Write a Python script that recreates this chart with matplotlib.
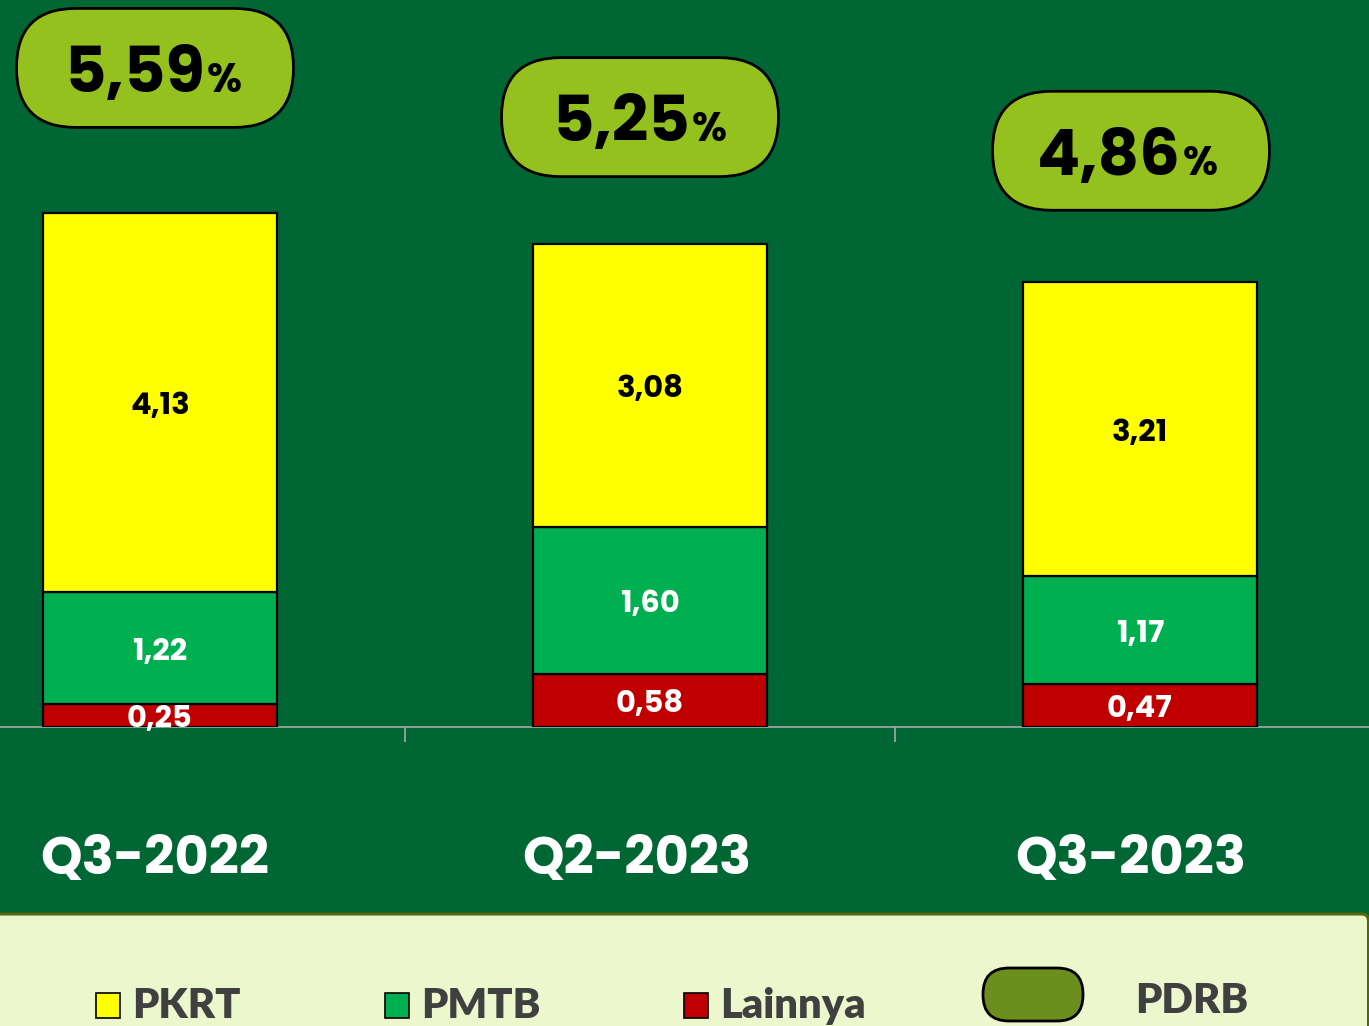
import matplotlib
matplotlib.use("Agg")
import matplotlib.pyplot as plt
from matplotlib.patches import FancyBboxPatch, Rectangle
import numpy as np

# ---------------- data ----------------
categories = ["Q3-2022", "Q2-2023", "Q3-2023"]
pkrt = [4.13, 3.08, 3.21]
pmtb = [1.22, 1.60, 1.17]
lainnya = [0.25, 0.58, 0.47]
pdrb = [5.59, 5.25, 4.86]
legend_labels = ["PKRT", "PMTB", "Lainnya", "PDRB"]

def fmt(v):
    return f"{v:.2f}".replace(".", ",")

# ---------------- style ----------------
BG = "#006633"
YEL = "#FFFF00"
GRN = "#00B050"
RED = "#C00000"
BADGE = "#95C11F"
PANEL = "#EDF7CE"
plt.rcParams["font.family"] = ["Lato", "DejaVu Sans"]
GEO = ["Poppins", "Lato", "DejaVu Sans"]

W, H = 1369, 1026
fig = plt.figure(figsize=(W / 100, H / 100), dpi=100, facecolor=BG)

base_px = 727
px_per_unit = 91.8
cat_px = 490
ax = fig.add_axes([0, 1 - base_px / H, 1, base_px / H])
ax.set_facecolor("none")
ax.set_xlim(-160 / cat_px, (W - 160) / cat_px)
ax.set_ylim(0, base_px / px_per_unit)

x = np.arange(len(categories))
bw = 234 / cat_px
kw = dict(width=bw, edgecolor="black", linewidth=1.6, zorder=3)
ax.bar(x, lainnya, color=RED, **kw)
ax.bar(x, pmtb, bottom=lainnya, color=GRN, **kw)
bot3 = np.array(lainnya) + np.array(pmtb)
ax.bar(x, pkrt, bottom=bot3, color=YEL, **kw)

vkw = dict(ha="center", va="center", fontsize=22, fontweight="bold", family=GEO,
           zorder=5, textcoords="offset points", xytext=(0, -3.5))
for i in range(len(categories)):
    ax.annotate(fmt(lainnya[i]), (x[i], lainnya[i] / 2), color="white", **vkw)
    ax.annotate(fmt(pmtb[i]), (x[i], lainnya[i] + pmtb[i] / 2), color="white", **vkw)
    ax.annotate(fmt(pkrt[i]), (x[i], bot3[i] + pkrt[i] / 2), color="black", **vkw)

# badges (PDRB)
totals = bot3 + np.array(pkrt)
badge_dx_px = [-5, -10, -9]
badge_dy_px = [145, 127, 131]
bw_px, bh_px = 277, 119
aspect = cat_px / px_per_unit
for i in range(len(categories)):
    cx = x[i] + badge_dx_px[i] / cat_px
    cy = totals[i] + badge_dy_px[i] / px_per_unit
    wdat = bw_px / cat_px
    hdat = bh_px / px_per_unit
    r = (hdat / aspect) / 2 * 0.999
    p = FancyBboxPatch((cx - wdat / 2, cy - hdat / 2), wdat, hdat,
                       boxstyle=f"round,pad=0,rounding_size={r}",
                       mutation_aspect=aspect, facecolor=BADGE,
                       edgecolor="black", linewidth=2, zorder=4, clip_on=False)
    ax.add_patch(p)
    ybase = cy - 24 / px_per_unit
    ax.text(cx + 50 / cat_px, ybase, fmt(pdrb[i]), ha="right", va="baseline",
            fontsize=46, fontweight="bold", family=GEO, color="black", zorder=5)
    ax.text(cx + 52 / cat_px, ybase, "%", ha="left", va="baseline",
            fontsize=29, fontweight="bold", family=GEO, color="black", zorder=5)

# category labels
lab_dx_px = [-5, -13, -9]
for i, c in enumerate(categories):
    ax.annotate(c, xy=(x[i], 0), xycoords="data",
                xytext=(lab_dx_px[i] * 0.72, -135 * 0.72), textcoords="offset points",
                ha="center", va="center", fontsize=38, fontweight="bold", family=GEO,
                color="white", annotation_clip=False)

# axes styling
for s in ["top", "left", "right"]:
    ax.spines[s].set_visible(False)
ax.spines["bottom"].set_color("#A8A8A8")
ax.spines["bottom"].set_linewidth(1.2)
ax.set_yticks([])
ax.set_xticks(x)
ax.set_xticklabels([])
ax.tick_params(axis="x", which="major", length=0)
ax.set_xticks([0.5, 1.5], minor=True)
ax.tick_params(axis="x", which="minor", length=11, color="#A8A8A8", width=1.2)

# legend panel
tr = fig.dpi_scale_trans
panel = FancyBboxPatch((-0.2, -0.5), W / 100 + 0.2 - 0.005, (H - 914) / 100 + 0.5,
                       boxstyle="round,pad=0,rounding_size=0.07",
                       transform=tr, facecolor=PANEL, edgecolor="#56680F",
                       linewidth=2.2, zorder=0)
fig.patches.append(panel)

sq_colors = [YEL, GRN, RED]
sq_x = [96, 385, 684]
for lbl, col, sx in zip(legend_labels[:3], sq_colors, sq_x):
    fig.patches.append(Rectangle((sx / 100, (H - 1018) / 100), 0.24, 0.25,
                                 transform=tr, facecolor=col, edgecolor="black",
                                 linewidth=1.2))
    fig.text((sx + 36) / 100, (H - 1018) / 100, lbl, transform=tr,
             ha="left", va="baseline", fontsize=30, fontweight=800, color="#404040")

fig.patches.append(FancyBboxPatch((983 / 100, (H - 1021) / 100), 1.0, 0.53,
                                  boxstyle="round,pad=0,rounding_size=0.26",
                                  transform=tr, facecolor="#6B8E1E",
                                  edgecolor="black", linewidth=2))
fig.text(1135 / 100, (H - 1013) / 100, legend_labels[3], transform=tr,
         ha="left", va="baseline", fontsize=30, fontweight=800, color="#404040")

fig.savefig("out.png", dpi=100, facecolor=BG)
